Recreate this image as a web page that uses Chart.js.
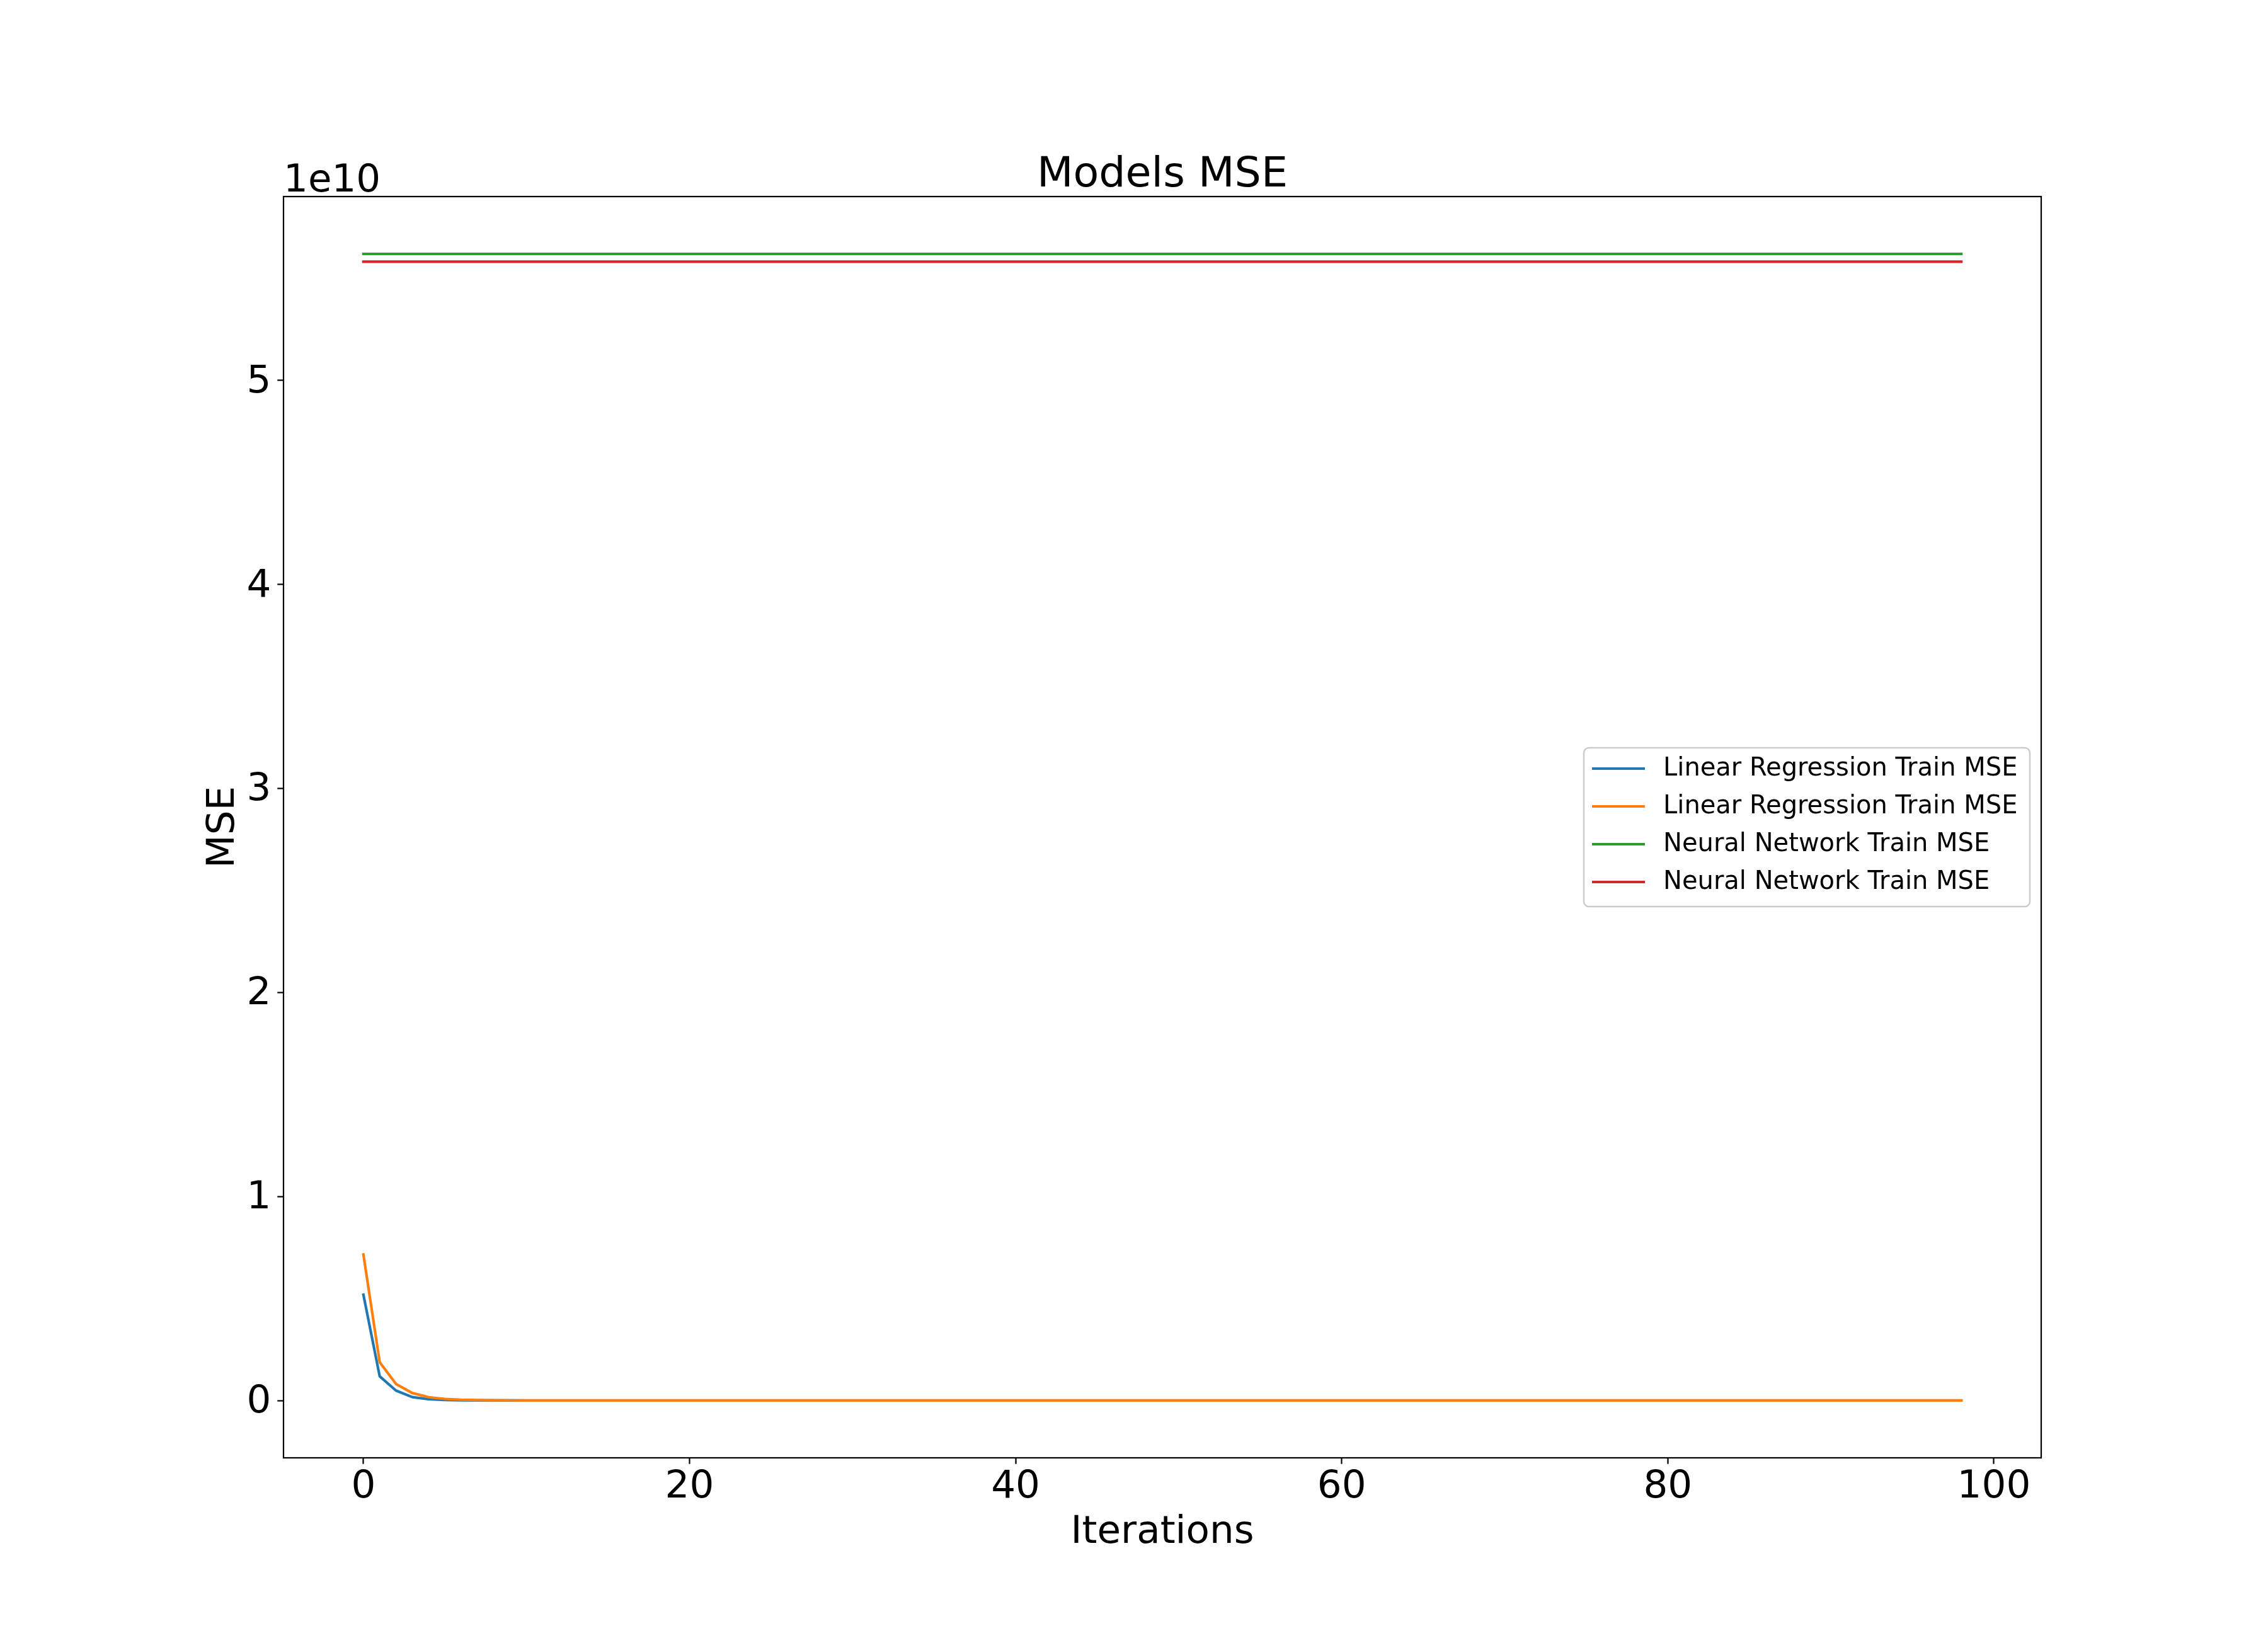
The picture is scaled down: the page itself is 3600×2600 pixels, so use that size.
<!DOCTYPE html>
<html>
<head>
<meta charset="utf-8">
<title>Models MSE</title>
<script src="https://cdn.jsdelivr.net/npm/chart.js@4.4.1/dist/chart.umd.min.js"></script>
<style>
  html, body { margin: 0; padding: 0; background: #ffffff; }
</style>
</head>
<body>
<canvas id="mseChart" width="3600" height="2600"></canvas>
<script>
// chart data (MSE per iteration, 99 iterations: 0..98)
const chartTitle = 'Models MSE';
const xTitle = 'Iterations';
const yTitle = 'MSE';
const offsetText = '1e10';

const seriesLabels = [
    'Linear Regression Train MSE',
    'Linear Regression Train MSE',
    'Neural Network Train MSE',
    'Neural Network Train MSE'
];

const linRegA = [
    5.19e9, 1.19e9, 4.9e8, 1.7e8, 6.5e7, 3.0e7, 1.6e7, 9.5e6, 6.4e6, 4.9e6,
    4.1e6, 3.7e6, 3.45e6, 3.3e6, 3.22e6, 3.18e6, 3.16e6, 3.15e6, 3.14e6, 3.14e6,
    3.13e6, 3.13e6, 3.13e6, 3.13e6, 3.13e6, 3.13e6, 3.13e6, 3.13e6, 3.13e6, 3.13e6,
    3.13e6, 3.13e6, 3.13e6, 3.13e6, 3.13e6, 3.13e6, 3.13e6, 3.13e6, 3.13e6, 3.13e6,
    3.13e6, 3.13e6, 3.13e6, 3.13e6, 3.13e6, 3.13e6, 3.13e6, 3.13e6, 3.13e6, 3.13e6,
    3.13e6, 3.13e6, 3.13e6, 3.13e6, 3.13e6, 3.13e6, 3.13e6, 3.13e6, 3.13e6, 3.13e6,
    3.13e6, 3.13e6, 3.13e6, 3.13e6, 3.13e6, 3.13e6, 3.13e6, 3.13e6, 3.13e6, 3.13e6,
    3.13e6, 3.13e6, 3.13e6, 3.13e6, 3.13e6, 3.13e6, 3.13e6, 3.13e6, 3.13e6, 3.13e6,
    3.13e6, 3.13e6, 3.13e6, 3.13e6, 3.13e6, 3.13e6, 3.13e6, 3.13e6, 3.13e6, 3.13e6,
    3.13e6, 3.13e6, 3.13e6, 3.13e6, 3.13e6, 3.13e6, 3.13e6, 3.13e6, 3.13e6
];

const linRegB = [
    7.16e9, 1.88e9, 8.1e8, 3.7e8, 1.65e8, 8.0e7, 4.2e7, 2.4e7, 1.5e7, 1.05e7,
    8.2e6, 7.0e6, 6.4e6, 6.1e6, 5.95e6, 5.87e6, 5.83e6, 5.81e6, 5.8e6, 5.79e6,
    5.78e6, 5.78e6, 5.78e6, 5.78e6, 5.78e6, 5.78e6, 5.78e6, 5.78e6, 5.78e6, 5.78e6,
    5.78e6, 5.78e6, 5.78e6, 5.78e6, 5.78e6, 5.78e6, 5.78e6, 5.78e6, 5.78e6, 5.78e6,
    5.78e6, 5.78e6, 5.78e6, 5.78e6, 5.78e6, 5.78e6, 5.78e6, 5.78e6, 5.78e6, 5.78e6,
    5.78e6, 5.78e6, 5.78e6, 5.78e6, 5.78e6, 5.78e6, 5.78e6, 5.78e6, 5.78e6, 5.78e6,
    5.78e6, 5.78e6, 5.78e6, 5.78e6, 5.78e6, 5.78e6, 5.78e6, 5.78e6, 5.78e6, 5.78e6,
    5.78e6, 5.78e6, 5.78e6, 5.78e6, 5.78e6, 5.78e6, 5.78e6, 5.78e6, 5.78e6, 5.78e6,
    5.78e6, 5.78e6, 5.78e6, 5.78e6, 5.78e6, 5.78e6, 5.78e6, 5.78e6, 5.78e6, 5.78e6,
    5.78e6, 5.78e6, 5.78e6, 5.78e6, 5.78e6, 5.78e6, 5.78e6, 5.78e6, 5.78e6
];

const neuralNetA = [
    5.62e10, 5.62e10, 5.62e10, 5.62e10, 5.62e10, 5.62e10, 5.62e10, 5.62e10, 5.62e10, 5.62e10,
    5.62e10, 5.62e10, 5.62e10, 5.62e10, 5.62e10, 5.62e10, 5.62e10, 5.62e10, 5.62e10, 5.62e10,
    5.62e10, 5.62e10, 5.62e10, 5.62e10, 5.62e10, 5.62e10, 5.62e10, 5.62e10, 5.62e10, 5.62e10,
    5.62e10, 5.62e10, 5.62e10, 5.62e10, 5.62e10, 5.62e10, 5.62e10, 5.62e10, 5.62e10, 5.62e10,
    5.62e10, 5.62e10, 5.62e10, 5.62e10, 5.62e10, 5.62e10, 5.62e10, 5.62e10, 5.62e10, 5.62e10,
    5.62e10, 5.62e10, 5.62e10, 5.62e10, 5.62e10, 5.62e10, 5.62e10, 5.62e10, 5.62e10, 5.62e10,
    5.62e10, 5.62e10, 5.62e10, 5.62e10, 5.62e10, 5.62e10, 5.62e10, 5.62e10, 5.62e10, 5.62e10,
    5.62e10, 5.62e10, 5.62e10, 5.62e10, 5.62e10, 5.62e10, 5.62e10, 5.62e10, 5.62e10, 5.62e10,
    5.62e10, 5.62e10, 5.62e10, 5.62e10, 5.62e10, 5.62e10, 5.62e10, 5.62e10, 5.62e10, 5.62e10,
    5.62e10, 5.62e10, 5.62e10, 5.62e10, 5.62e10, 5.62e10, 5.62e10, 5.62e10, 5.62e10
];

const neuralNetB = [
    5.582e10, 5.582e10, 5.582e10, 5.582e10, 5.582e10, 5.582e10, 5.582e10, 5.582e10, 5.582e10, 5.582e10,
    5.582e10, 5.582e10, 5.582e10, 5.582e10, 5.582e10, 5.582e10, 5.582e10, 5.582e10, 5.582e10, 5.582e10,
    5.582e10, 5.582e10, 5.582e10, 5.582e10, 5.582e10, 5.582e10, 5.582e10, 5.582e10, 5.582e10, 5.582e10,
    5.582e10, 5.582e10, 5.582e10, 5.582e10, 5.582e10, 5.582e10, 5.582e10, 5.582e10, 5.582e10, 5.582e10,
    5.582e10, 5.582e10, 5.582e10, 5.582e10, 5.582e10, 5.582e10, 5.582e10, 5.582e10, 5.582e10, 5.582e10,
    5.582e10, 5.582e10, 5.582e10, 5.582e10, 5.582e10, 5.582e10, 5.582e10, 5.582e10, 5.582e10, 5.582e10,
    5.582e10, 5.582e10, 5.582e10, 5.582e10, 5.582e10, 5.582e10, 5.582e10, 5.582e10, 5.582e10, 5.582e10,
    5.582e10, 5.582e10, 5.582e10, 5.582e10, 5.582e10, 5.582e10, 5.582e10, 5.582e10, 5.582e10, 5.582e10,
    5.582e10, 5.582e10, 5.582e10, 5.582e10, 5.582e10, 5.582e10, 5.582e10, 5.582e10, 5.582e10, 5.582e10,
    5.582e10, 5.582e10, 5.582e10, 5.582e10, 5.582e10, 5.582e10, 5.582e10, 5.582e10, 5.582e10
];

const xTicks = [0, 20, 40, 60, 80, 100];
const yTicks = [0, 1e10, 2e10, 3e10, 4e10, 5e10];

// matplotlib tab10 colours
const colors = ['#1f77b4', '#ff7f0e', '#2ca02c', '#d62728'];
const allSeries = [linRegA, linRegB, neuralNetA, neuralNetB];

// matplotlib style 5% margins around the data
const flat = allSeries.flat();
const yLo = Math.min(...flat), yHi = Math.max(...flat);
const yPad = (yHi - yLo) * 0.05;
const xLast = linRegA.length - 1;
const xPad = xLast * 0.05;

const FONT = 'DejaVu Sans';
const DPI = 200 / 72;

// frame, title, offset text and legend, drawn like matplotlib does
const mplDecor = {
    id: 'mplDecor',
    afterDraw(chart) {
        const { ctx, chartArea: a } = chart;
        ctx.save();
        ctx.strokeStyle = '#000';
        ctx.lineWidth = 0.8 * DPI;
        ctx.strokeRect(a.left, a.top, a.right - a.left, a.bottom - a.top);

        ctx.fillStyle = '#000';
        ctx.textBaseline = 'alphabetic';
        ctx.font = `${24 * DPI}px "${FONT}"`;
        ctx.textAlign = 'center';
        ctx.fillText(chartTitle, (a.left + a.right) / 2, a.top - 16);

        ctx.font = `${22 * DPI}px "${FONT}"`;
        ctx.textAlign = 'left';
        ctx.fillText(offsetText, a.left, a.top - 8);

        // legend, centre right
        const bw = 708, bh = 252;
        const bx = a.right - 18 - bw;
        const cy = (a.top + a.bottom) / 2;
        const by = cy - 126;
        ctx.beginPath();
        ctx.roundRect(bx, by, bw, bh, 8);
        ctx.fillStyle = 'rgba(255,255,255,0.8)';
        ctx.fill();
        ctx.lineWidth = 2.5;
        ctx.strokeStyle = '#cccccc';
        ctx.stroke();

        ctx.font = `${14.4 * DPI}px "${FONT}"`;
        ctx.textBaseline = 'middle';
        chart.data.datasets.forEach((ds, i) => {
            const ry = cy - 93 + i * 60;
            ctx.beginPath();
            ctx.strokeStyle = ds.borderColor;
            ctx.lineWidth = 1.5 * DPI;
            ctx.lineCap = 'butt';
            ctx.moveTo(bx + 13, ry);
            ctx.lineTo(bx + 97, ry);
            ctx.stroke();
            ctx.fillStyle = '#000';
            ctx.fillText(ds.label, bx + 126, ry + 1);
        });
        ctx.restore();
    }
};

const ctx = document.getElementById('mseChart').getContext('2d');
new Chart(ctx, {
    type: 'line',
    data: {
        datasets: allSeries.map((vals, i) => ({
            label: seriesLabels[i],
            data: vals.map((v, k) => ({ x: k, y: v })),
            borderColor: colors[i],
            backgroundColor: colors[i],
            borderWidth: 1.5 * DPI,
            borderCapStyle: 'square',
            borderJoinStyle: 'round',
            pointRadius: 0,
            tension: 0,
            fill: false,
            // later series are drawn on top, as in matplotlib
            order: allSeries.length - i
        }))
    },
    options: {
        responsive: false,
        devicePixelRatio: 1,
        animation: false,
        events: [],
        layout: { padding: { left: 0, right: 360, top: 312, bottom: 0 } },
        plugins: {
            legend: { display: false },
            title: { display: false },
            tooltip: { enabled: false }
        },
        scales: {
            x: {
                type: 'linear',
                min: -xPad,
                max: xLast + xPad,
                afterBuildTicks: (s) => { s.ticks = xTicks.map(v => ({ value: v })); },
                afterFit: (s) => { s.height = 286; },
                border: { display: false },
                grid: {
                    drawOnChartArea: false,
                    drawTicks: true,
                    tickLength: 3.5 * DPI,
                    tickWidth: 0.8 * DPI,
                    tickColor: '#000'
                },
                ticks: {
                    autoSkip: false,
                    maxRotation: 0,
                    padding: 1,
                    color: '#000',
                    font: { family: FONT, size: 22 * DPI, lineHeight: 1.2 },
                    callback: (v) => String(v)
                },
                title: {
                    display: true,
                    text: xTitle,
                    color: '#000',
                    font: { family: FONT, size: 22 * DPI, lineHeight: 1.2 },
                    padding: { top: 0, bottom: 130 }
                }
            },
            y: {
                type: 'linear',
                min: yLo - yPad,
                max: yHi + yPad,
                afterBuildTicks: (s) => { s.ticks = yTicks.map(v => ({ value: v })); },
                afterFit: (s) => { s.width = 450; },
                border: { display: false },
                grid: {
                    drawOnChartArea: false,
                    drawTicks: true,
                    tickLength: 3.5 * DPI,
                    tickWidth: 0.8 * DPI,
                    tickColor: '#000'
                },
                ticks: {
                    autoSkip: false,
                    padding: 10,
                    labelOffset: 3,
                    color: '#000',
                    font: { family: FONT, size: 22 * DPI, lineHeight: 1.2 },
                    callback: (v) => String(Math.round(v / 1e10))
                },
                title: {
                    display: true,
                    text: yTitle,
                    color: '#000',
                    font: { family: FONT, size: 22 * DPI, lineHeight: 1.2 },
                    padding: { top: 318, bottom: 0 }
                }
            }
        }
    },
    plugins: [mplDecor]
});
</script>
</body>
</html>
